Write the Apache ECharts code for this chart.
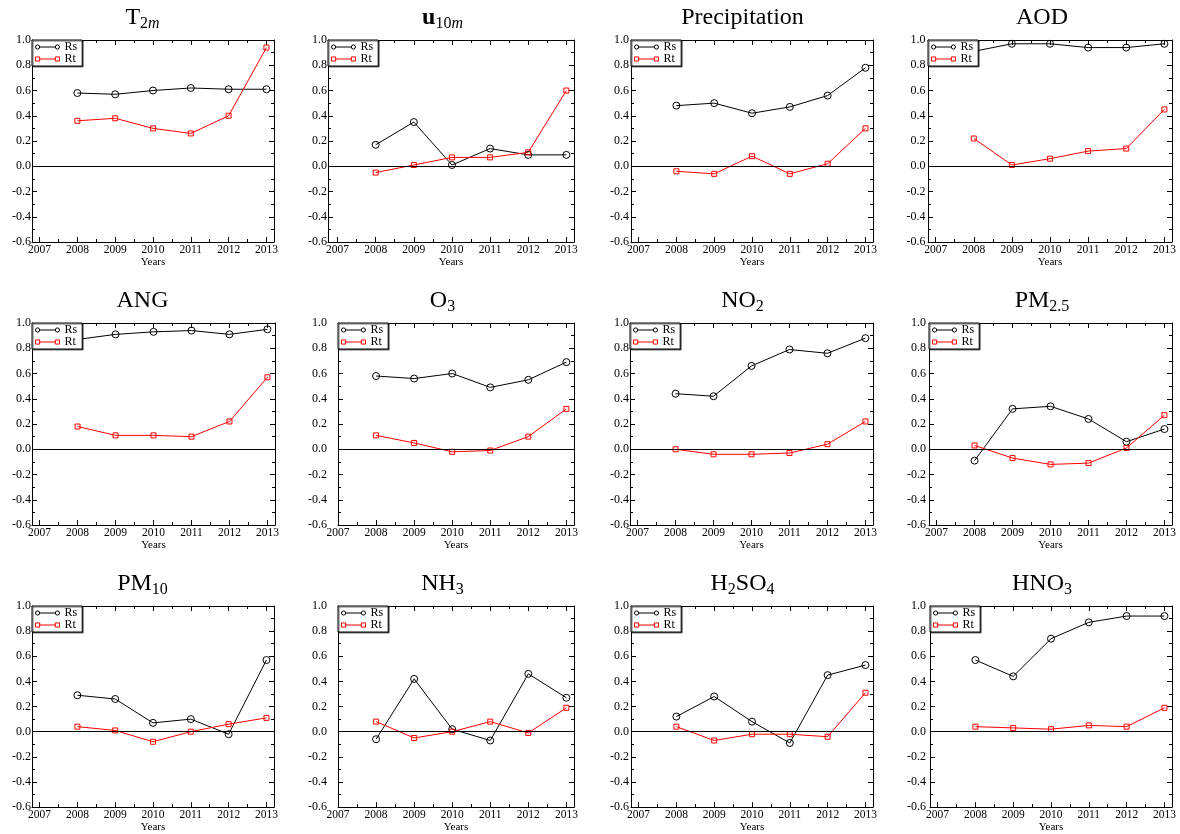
<!DOCTYPE html>
<html><head><meta charset="utf-8">
<script src="https://cdn.jsdelivr.net/npm/echarts@6/dist/echarts.min.js"></script>
<style>html,body{margin:0;padding:0;background:#fff}#c{width:1180px;height:834px}</style>
</head><body><div id="c"></div>
<script>
// ---- data ----
const years = [2008, 2009, 2010, 2011, 2012, 2013];
const majorTicks = [2007, 2008, 2009, 2010, 2011, 2012, 2013];
const minorTicks = [2007.5, 2008.5, 2009.5, 2010.5, 2011.5, 2012.5];
const seriesNames = ['Rs', 'Rt'];
const panelTitles = [
  '{m|T}{s|2}{si|m}', '{mb|u}{s|10}{si|m}', '{m|Precipitation}', '{m|AOD}',
  '{m|ANG}', '{m|O}{s|3}', '{m|NO}{s|2}', '{m|PM}{s|2.5}',
  '{m|PM}{s|10}', '{m|NH}{s|3}', '{m|H}{s|2}{m|SO}{s|4}', '{m|HNO}{s|3}'
];
const rsT2m = [0.58, 0.57, 0.60, 0.62, 0.61, 0.61];
const rtT2m = [0.36, 0.38, 0.30, 0.26, 0.40, 0.94];
const rsU10m = [0.17, 0.35, 0.01, 0.14, 0.09, 0.09];
const rtU10m = [-0.05, 0.01, 0.07, 0.07, 0.11, 0.60];
const rsPrecip = [0.48, 0.50, 0.42, 0.47, 0.56, 0.78];
const rtPrecip = [-0.04, -0.06, 0.08, -0.06, 0.02, 0.30];
const rsAOD = [0.91, 0.97, 0.97, 0.94, 0.94, 0.97];
const rtAOD = [0.22, 0.01, 0.06, 0.12, 0.14, 0.45];
const rsANG = [0.87, 0.91, 0.93, 0.94, 0.91, 0.95];
const rtANG = [0.18, 0.11, 0.11, 0.10, 0.22, 0.57];
const rsO3 = [0.58, 0.56, 0.60, 0.49, 0.55, 0.69];
const rtO3 = [0.11, 0.05, -0.02, -0.01, 0.10, 0.32];
const rsNO2 = [0.44, 0.42, 0.66, 0.79, 0.76, 0.88];
const rtNO2 = [0.00, -0.04, -0.04, -0.03, 0.04, 0.22];
const rsPM25 = [-0.09, 0.32, 0.34, 0.24, 0.06, 0.16];
const rtPM25 = [0.03, -0.07, -0.12, -0.11, 0.01, 0.27];
const rsPM10 = [0.29, 0.26, 0.07, 0.10, -0.02, 0.57];
const rtPM10 = [0.04, 0.01, -0.08, 0.00, 0.06, 0.11];
const rsNH3 = [-0.06, 0.42, 0.02, -0.07, 0.46, 0.27];
const rtNH3 = [0.08, -0.05, 0.00, 0.08, -0.01, 0.19];
const rsH2SO4 = [0.12, 0.28, 0.08, -0.09, 0.45, 0.53];
const rtH2SO4 = [0.04, -0.07, -0.02, -0.02, -0.04, 0.31];
const rsHNO3 = [0.57, 0.44, 0.74, 0.87, 0.92, 0.92];
const rtHNO3 = [0.04, 0.03, 0.02, 0.05, 0.04, 0.19];
const rsAll = [rsT2m, rsU10m, rsPrecip, rsAOD, rsANG, rsO3, rsNO2, rsPM25, rsPM10, rsNH3, rsH2SO4, rsHNO3];
const rtAll = [rtT2m, rtU10m, rtPrecip, rtAOD, rtANG, rtO3, rtNO2, rtPM25, rtPM10, rtNH3, rtH2SO4, rtHNO3];

// ---- layout ----
const gridBoxes = [
  [32, 40, 242, 202], [328, 40, 246, 202], [631, 40, 242, 202], [928, 40, 244, 202],
  [32, 323, 243, 202], [338, 323, 236, 202], [630, 323, 243, 202], [929, 323, 243, 202],
  [32, 606, 242, 202], [338, 606, 236, 202], [631, 606, 242, 202], [930, 606, 242, 202]
];
const xMins = [2006.8, 2006.75, 2006.8, 2006.8, 2006.8, 2007, 2006.8, 2006.8, 2006.8, 2007, 2006.8, 2006.8];
const yLabelMargins = [1, 1, 2, 2.5, 1, 11, 1, 3, 1, 11, 2, 4];
const titleX = [142.5, 442.5, 742.5, 1042];
const titleTop = [4, 287, 570];

const font = '"Liberation Serif", "Times New Roman", serif';
const circleIcon = 'path://M0.5,2.5A2,2 0 1,1 4.5,2.5A2,2 0 1,1 0.5,2.5Z M4.5,2.5L19.5,2.5 M19.5,2.5A2,2 0 1,1 23.5,2.5A2,2 0 1,1 19.5,2.5Z';
const squareIcon = 'path://M0.5,0.5L4.5,0.5L4.5,4.5L0.5,4.5Z M4.5,2.5L19.5,2.5 M19.5,0.5L23.5,0.5L23.5,4.5L19.5,4.5Z';

const option = {
  animation: false, backgroundColor: '#fff',
  title: [], grid: [], xAxis: [], yAxis: [], legend: [], series: []
};

const rich = {
  m: { fontFamily: font, fontSize: 24, lineHeight: 28, color: '#000', fontWeight: 'normal' },
  mb: { fontFamily: font, fontSize: 24, lineHeight: 28, color: '#000', fontWeight: 'bold' },
  s: { fontFamily: font, fontSize: 16, lineHeight: 16, color: '#000', fontWeight: 'normal', padding: [12, 0, 0, 0] },
  si: { fontFamily: font, fontSize: 16, lineHeight: 16, color: '#000', fontWeight: 'normal', fontStyle: 'italic', padding: [12, 0, 0, 0] }
};

gridBoxes.forEach((b, i) => {
  const [l, t, w, h] = b;
  const row = Math.floor(i / 4), col = i % 4;
  option.title.push({ text: panelTitles[i], left: titleX[col], top: titleTop[row], textAlign: 'center', padding: 0,
    textStyle: { fontFamily: font, fontSize: 24, fontWeight: 'normal', color: '#000', rich: rich } });
  option.grid.push({ left: l, top: t, width: w, height: h, containLabel: false });
  const xBase = { gridIndex: i, type: 'value', min: xMins[i], max: 2013.2, splitLine: { show: false } };
  const lineOn = { show: true, onZero: false, lineStyle: { color: '#000', width: 1 } };
  const lineOff = { show: false, onZero: false };
  const tickMajor = { show: true, inside: true, length: 5, customValues: majorTicks, lineStyle: { color: '#000', width: 1 } };
  const tickMinor = { show: true, inside: true, length: 3, customValues: minorTicks, lineStyle: { color: '#000', width: 1 } };
  option.xAxis.push(Object.assign({}, xBase, { position: 'bottom', axisLine: lineOn, axisTick: tickMajor,
    axisLabel: { customValues: majorTicks, margin: 2, fontFamily: font, fontSize: 11.5, color: '#000',
      formatter: v => String(Math.round(v)) },
    name: 'Years', nameLocation: 'middle', nameGap: 13,
    nameTextStyle: { fontFamily: font, fontSize: 11, color: '#000', verticalAlign: 'top' } }));
  option.xAxis.push(Object.assign({}, xBase, { position: 'bottom', axisLine: lineOff, axisTick: tickMinor, axisLabel: { show: false } }));
  option.xAxis.push(Object.assign({}, xBase, { position: 'top', axisLine: lineOn, axisTick: tickMajor, axisLabel: { show: false } }));
  option.xAxis.push(Object.assign({}, xBase, { position: 'top', axisLine: lineOff, axisTick: tickMinor, axisLabel: { show: false } }));
  const yBase = { gridIndex: i, type: 'value', min: -0.6, max: 1.0, interval: 0.2, splitLine: { show: false },
    axisLine: lineOn,
    axisTick: { show: true, inside: true, length: 5, lineStyle: { color: '#000', width: 1 } },
    minorTick: { show: true, splitNumber: 2, length: 3, lineStyle: { color: '#000', width: 1 } },
    minorSplitLine: { show: false } };
  option.yAxis.push(Object.assign({}, yBase, { position: 'left',
    axisLabel: { margin: yLabelMargins[i], fontFamily: font, fontSize: 12, color: '#000',
      formatter: v => (Math.abs(v) < 1e-9 ? 0 : v).toFixed(1) } }));
  option.yAxis.push(Object.assign({}, yBase, { position: 'right', axisLabel: { show: false } }));

  option.legend.push({
    left: l, top: t, orient: 'vertical', padding: [1, 5, 1, 3], itemGap: 0,
    itemWidth: 24, itemHeight: 5, selectedMode: false,
    backgroundColor: '#fff', borderColor: '#000', borderWidth: 1,
    shadowColor: 'rgba(0,0,0,0.55)', shadowOffsetX: 1, shadowOffsetY: 1, shadowBlur: 0,
    textStyle: { fontFamily: font, fontSize: 12, color: '#000', padding: [0, 0, 0, 0] },
    data: [
      { name: seriesNames[0], icon: circleIcon, itemStyle: { color: 'rgba(0,0,0,0)', borderColor: '#000', borderWidth: 1 } },
      { name: seriesNames[1], icon: squareIcon, itemStyle: { color: 'rgba(0,0,0,0)', borderColor: '#ff0000', borderWidth: 1 } }
    ]
  });

  option.series.push({
    name: seriesNames[0], type: 'line', xAxisIndex: i * 4, yAxisIndex: i * 2,
    data: years.map((y, k) => [y, rsAll[i][k]]),
    symbol: 'circle', symbolSize: 7,
    itemStyle: { color: 'rgba(0,0,0,0)', borderColor: '#000', borderWidth: 1 },
    lineStyle: { color: '#000', width: 1 },
    markLine: { silent: true, symbol: ['none', 'none'], label: { show: false },
      lineStyle: { color: '#000', width: 1, type: 'solid' }, data: [{ yAxis: 0 }] },
    z: 3
  });
  option.series.push({
    name: seriesNames[1], type: 'line', xAxisIndex: i * 4, yAxisIndex: i * 2,
    data: years.map((y, k) => [y, rtAll[i][k]]),
    symbol: 'rect', symbolSize: 5,
    itemStyle: { color: 'rgba(0,0,0,0)', borderColor: '#ff0000', borderWidth: 1 },
    lineStyle: { color: '#ff0000', width: 1 },
    z: 3
  });
});

const chart = echarts.init(document.getElementById('c'), null, { renderer: 'canvas' });
chart.setOption(option);
</script>
</body></html>
